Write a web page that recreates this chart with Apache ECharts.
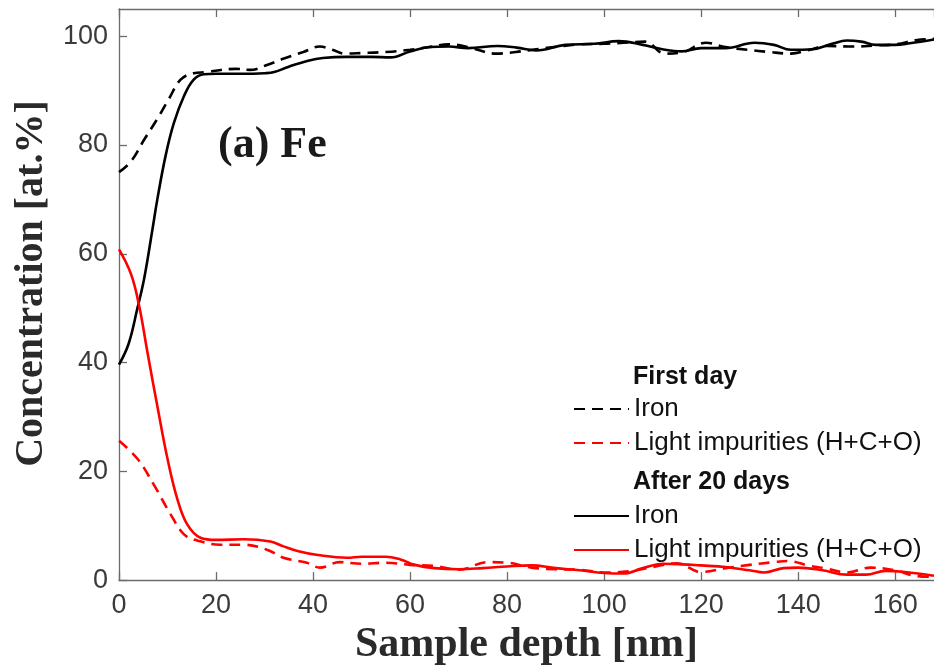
<!DOCTYPE html>
<html>
<head>
<meta charset="utf-8">
<script src="https://cdn.jsdelivr.net/npm/echarts@6/dist/echarts.min.js"></script>
<style>
html,body{margin:0;padding:0;background:#fff;}
#chart{width:934px;height:671px;}
</style>
</head>
<body>
<div id="chart"></div>
<script>
// ---- data ----
var xTicks = [0, 20, 40, 60, 80, 100, 120, 140, 160];
var yTicks = [0, 20, 40, 60, 80, 100];

var ironFirstX = [0, 2.5, 5.2, 7.9, 10.3, 12.7, 15.4, 18, 21, 24, 27, 30.5, 34, 38, 41.4, 44, 46.5, 50, 55, 60, 64, 68, 72, 77.7, 81.8, 86, 90.5, 95, 100, 104, 108.4, 112.5, 116, 121, 125, 129.6, 134, 138.5, 142, 146, 151.5, 156, 160, 164.5, 168];
var ironFirstY = [75, 77, 81, 84.8, 88.5, 92, 93.2, 93.4, 93.8, 94, 93.8, 94.7, 95.9, 97.1, 98.1, 97.5, 96.8, 96.9, 97.1, 97.5, 98, 98.5, 98, 96.8, 97.1, 97.6, 98.1, 98.5, 98.6, 98.8, 99, 96.8, 97, 98.8, 98, 97.5, 97.1, 96.8, 97.4, 98.2, 98.1, 98.3, 98.5, 99.3, 99.5];

var lightFirstX = [0, 3.8, 7.2, 10.7, 13.4, 16.1, 20.9, 25.7, 30.5, 33.9, 38.7, 41.4, 45.5, 50, 55, 60, 65, 70, 76, 80, 85, 90, 95, 100, 105, 110, 115, 120, 125, 130, 135, 138, 142, 146, 150, 155, 160, 164, 168];
var lightFirstY = [25.6, 22.3, 17.5, 12, 8.4, 7.3, 6.5, 6.5, 5.6, 4.1, 3.2, 2.3, 3.3, 3.0, 3.2, 2.8, 2.6, 1.9, 3.3, 3.2, 2.3, 2.0, 1.9, 1.4, 1.6, 2.4, 3.1, 1.5, 2.2, 2.8, 3.3, 3.5, 2.7, 2.1, 1.4, 2.3, 1.8, 0.8, 0.6];

var ironLaterX = [0, 2, 3.8, 5.2, 6.9, 7.9, 9.6, 11.3, 13.4, 15.4, 17.5, 20, 25, 30, 32, 35, 39, 42, 47, 52, 56, 60, 64, 68, 72, 78, 82, 86, 92, 98, 103, 108, 112, 116, 120, 125, 131, 135, 138.5, 143, 147, 150, 153, 156, 160, 163, 168];
var ironLaterY = [39.6, 43.5, 50, 55.5, 64.5, 70, 78, 84, 89, 92, 93, 93.1, 93.1, 93.2, 93.4, 94.4, 95.5, 96, 96.2, 96.2, 96.1, 97.2, 98, 98.1, 97.8, 98.2, 97.9, 97.4, 98.4, 98.6, 99.1, 98.4, 97.6, 97.2, 97.8, 97.8, 98.8, 98.4, 97.5, 97.6, 98.6, 99.2, 99, 98.4, 98.4, 98.7, 99.4];

var lightLaterX = [0, 2.5, 4.2, 5.9, 7.9, 10, 12, 14.1, 16.8, 20, 25.7, 31.2, 33.9, 37, 41, 47, 50, 55, 58, 61, 65, 70, 75, 80, 85, 90, 95, 100, 104, 108, 112, 116, 120, 125, 130, 133, 137, 140, 145, 150, 154, 158, 162, 168];
var lightLaterY = [60.8, 56.2, 50.2, 41.7, 32, 22.3, 15, 10.2, 7.8, 7.4, 7.5, 7.1, 6.2, 5.3, 4.6, 4.1, 4.3, 4.3, 3.8, 2.8, 2.2, 2.0, 2.2, 2.5, 2.7, 2.2, 1.8, 1.3, 1.2, 2.2, 3.0, 2.9, 2.7, 2.4, 1.8, 1.4, 2.2, 2.3, 1.8, 1.0, 1.0, 1.7, 1.5, 0.8];

var seriesNames = ['Iron|First day', 'Light impurities (H+C+O)|First day', 'Iron|After 20 days', 'Light impurities (H+C+O)|After 20 days'];
var groupTitles = ['First day', 'After 20 days'];
var panelLabel = '(a) Fe';
var xTitle = 'Sample depth [nm]';
var yTitle = 'Concentration [at.%]';

function pairs(xs, ys) { return xs.map(function (x, i) { return [x, ys[i]]; }); }

var chart = echarts.init(document.getElementById('chart'), null, { renderer: 'canvas' });

var axisColor = '#6b6b6b';
var sans = '"Liberation Sans", Arial, sans-serif';
var serif = '"Liberation Serif", "Times New Roman", serif';

function lineSeries(name, xs, ys, color, dashed) {
  return {
    name: name, type: 'line', xAxisIndex: 0, yAxisIndex: 0,
    data: pairs(xs, ys), smooth: 0.4, showSymbol: false, symbol: 'none',
    lineStyle: { color: color, width: 2.6, type: dashed ? [11, 7] : 'solid' },
    itemStyle: { color: color },
    emphasis: { disabled: true }, clip: true, z: dashed ? 3 : 2
  };
}

var legendCommon = {
  orient: 'vertical', left: 573, padding: 0, itemWidth: 55, itemHeight: 14, itemGap: 8,
  selectedMode: false,
  itemStyle: { opacity: 0 },
  textStyle: { fontFamily: sans, fontSize: 26, color: '#111' },
  formatter: function (n) { return n.split('|')[0]; }
};

var option = {
  backgroundColor: '#ffffff',
  animation: false,
  grid: { left: 119, top: 9, width: 818, height: 576, containLabel: false },
  xAxis: [{
    type: 'value', min: 0, max: 168, interval: 20, position: 'bottom',
    name: xTitle, nameLocation: 'middle', nameGap: 36,
    nameTextStyle: { fontFamily: serif, fontSize: 42, fontWeight: 'bold', color: '#2a2a2a' },
    axisLine: { show: true, onZero: false, lineStyle: { color: axisColor, width: 1.3 } },
    axisTick: { show: true, inside: true, length: 8, lineStyle: { color: axisColor, width: 1.3 } },
    axisLabel: { show: true, margin: 12, fontFamily: sans, fontSize: 27, color: '#3a3a3a', showMaxLabel: false,
      formatter: function (v) { return xTicks.indexOf(v) >= 0 ? String(v) : ''; } },
    splitLine: { show: false }
  }, {
    type: 'value', min: 0, max: 168, interval: 20, position: 'top',
    axisLine: { show: true, onZero: false, lineStyle: { color: axisColor, width: 1.3 } },
    axisTick: { show: true, inside: true, length: 8, lineStyle: { color: axisColor, width: 1.3 } },
    axisLabel: { show: false }, splitLine: { show: false }
  }],
  yAxis: [{
    type: 'value', min: 0, max: 105, interval: 20,
    name: yTitle, nameLocation: 'middle', nameGap: 60, nameRotate: 90,
    nameTextStyle: { fontFamily: serif, fontSize: 40, fontWeight: 'bold', color: '#2a2a2a', padding: [0, 0, 0, 22] },
    axisLine: { show: true, onZero: false, lineStyle: { color: axisColor, width: 1.3 } },
    axisTick: { show: true, inside: true, length: 8, lineStyle: { color: axisColor, width: 1.3 } },
    axisLabel: { show: true, margin: 11, fontFamily: sans, fontSize: 27, color: '#3a3a3a', showMaxLabel: false,
      formatter: function (v) { return yTicks.indexOf(v) >= 0 ? String(v) : ''; } },
    splitLine: { show: false }
  }],
  legend: [
    Object.assign({}, legendCommon, { top: 396, data: [seriesNames[0], seriesNames[1]] }),
    Object.assign({}, legendCommon, { top: 503, data: [seriesNames[2], seriesNames[3]] })
  ],
  graphic: [
    { type: 'text', left: 218, top: 124, silent: true,
      style: { text: panelLabel, font: 'bold 44px ' + serif, fill: '#1a1a1a' } },
    { type: 'text', left: 633, top: 365, silent: true,
      style: { text: groupTitles[0], font: 'bold 25px ' + sans, fill: '#111' } },
    { type: 'text', left: 633, top: 470, silent: true,
      style: { text: groupTitles[1], font: 'bold 25px ' + sans, fill: '#111' } }
  ],
  series: [
    lineSeries(seriesNames[0], ironFirstX, ironFirstY, '#000000', true),
    lineSeries(seriesNames[1], lightFirstX, lightFirstY, '#ff0000', true),
    lineSeries(seriesNames[2], ironLaterX, ironLaterY, '#000000', false),
    lineSeries(seriesNames[3], lightLaterX, lightLaterY, '#ff0000', false)
  ]
};
chart.setOption(option);
</script>
</body>
</html>
